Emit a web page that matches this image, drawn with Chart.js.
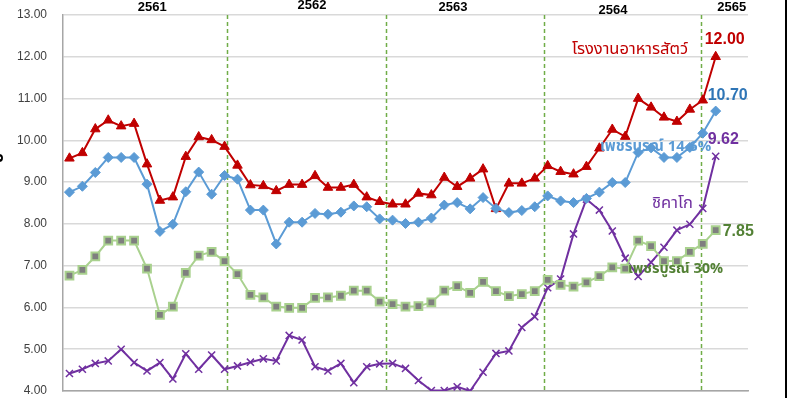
<!DOCTYPE html>
<html>
<head>
<meta charset="utf-8">
<script src="https://cdn.jsdelivr.net/npm/chart.js@4/dist/chart.umd.min.js"></script>
<style>
  html, body { margin: 0; padding: 0; background: #fff; }
  #wrap { width: 799px; height: 405px; position: relative; }
</style>
</head>
<body>
<div id="wrap"><canvas id="priceChart" width="799" height="405"></canvas></div>
<script>
/* ── Data ── */
const months = ["ม.ค.", "ก.พ.", "มี.ค.", "เม.ย.", "พ.ค.", "มิ.ย.", "ก.ค.", "ส.ค.", "ก.ย.", "ต.ค.", "พ.ย.", "ธ.ค."];
const years = ["2561", "2562", "2563", "2564", "2565"];

const feedMill = [
  9.57, 9.70, 10.27, 10.48, 10.34, 10.40, 9.43, 8.56, 8.64, 9.61, 10.08, 10.01, 9.85,
  9.40, 8.93, 8.91, 8.79, 8.94, 8.94, 9.15, 8.87, 8.87, 8.94, 8.64, 8.53, 8.47,
  8.47, 8.73, 8.69, 9.11, 8.89, 9.09, 9.31, 8.36, 8.97, 8.97, 9.09, 9.39,
  9.25, 9.19, 9.37, 9.81, 10.26, 10.09, 11.00, 10.79, 10.55, 10.45, 10.74, 10.96, 12.00
];
const phet146 = [
  8.76, 8.90, 9.23, 9.59, 9.59, 9.59, 8.95, 7.82, 7.99, 8.77, 9.24, 8.71, 9.16,
  9.07, 8.33, 8.33, 7.52, 8.04, 8.04, 8.25, 8.23, 8.28, 8.43, 8.41, 8.12, 8.09,
  8.01, 8.04, 8.14, 8.45, 8.51, 8.36, 8.63, 8.37, 8.27, 8.32, 8.41, 8.67,
  8.55, 8.51, 8.61, 8.76, 8.99, 8.99, 9.71, 9.82, 9.59, 9.59, 9.83, 10.17, 10.70
];
const phet30 = [
  6.76, 6.90, 7.22, 7.60, 7.60, 7.60, 6.93, 5.82, 6.02, 6.83, 7.24, 7.33, 7.11,
  6.80, 6.30, 6.24, 6.02, 5.99, 5.99, 6.23, 6.24, 6.28, 6.40, 6.40, 6.14, 6.08,
  6.02, 6.03, 6.12, 6.40, 6.51, 6.35, 6.61, 6.39, 6.27, 6.32, 6.39, 6.66,
  6.54, 6.50, 6.60, 6.75, 6.96, 6.93, 7.60, 7.47, 7.11, 7.11, 7.33, 7.52, 7.85
];
const chicago = [
  4.42, 4.52, 4.66, 4.72, 5.00, 4.68, 4.48, 4.68, 4.29, 4.89, 4.52, 4.86, 4.52,
  4.60, 4.69, 4.77, 4.72, 5.33, 5.22, 4.58, 4.48, 4.66, 4.20, 4.58, 4.65, 4.66,
  4.54, 4.25, 4.01, 4.01, 4.10, 4.00, 4.45, 4.90, 4.96, 5.52, 5.78, 6.47,
  6.68, 7.76, 8.59, 8.33, 7.83, 7.18, 6.74, 7.08, 7.44, 7.85, 7.99, 8.37, 9.62
];
const yTicks = [4, 5, 6, 7, 8, 9, 10, 11, 12, 13];

const categories = [];
years.forEach((y) => months.forEach((m) => categories.push(`${m} ${y.slice(2)}`)));
categories.length = feedMill.length;

/* ── Layout bits (index units on the x scale) ── */
const yearLines = [12.17, 24.47, 36.74, 48.9];
const yearLabelX = [6.4, 18.76, 29.67, 42.05, 51.24];
const yearLabelY = [7, 5, 7, 10, 7];

const THAI = "'Noto Sans Thai', Tahoma, 'Liberation Sans', sans-serif";
const LAT = "'Liberation Sans', Arial, sans-serif";

const seriesNames = [
  { text: "โรงงานอาหารสัตว์", x: 38.88, y: 12.14, color: "#c00000", font: `16.5px ${THAI}` },
  { text: "เพชรบูรณ์ 14.6%", x: 41.04, y: 9.82, color: "#5b9bd5", font: `bold 15px ${THAI}` },
  { text: "ชิคาโก", x: 45.07, y: 8.45, color: "#7030a0", font: `16.5px ${THAI}` },
  { text: "เพชรบูรณ์ 30%", x: 43.21, y: 6.90, color: "#538135", font: `bold 14.5px ${THAI}` },
];

function pts(arr) {
  return arr.map((v, i) => ({ x: i, y: v }));
}

/* ── Overlay: year dividers, year labels, names, end values ── */
const overlay = {
  id: "overlay",
  beforeDatasetsDraw(chart) {
    const { ctx, chartArea, scales } = chart;
    ctx.save();
    ctx.strokeStyle = "#70ad47";
    ctx.lineWidth = 1.5;
    ctx.setLineDash([4, 3]);
    yearLines.forEach((v) => {
      const x = Math.round(scales.x.getPixelForValue(v)) + 0.5;
      ctx.beginPath();
      ctx.moveTo(x, chartArea.top);
      ctx.lineTo(x, chartArea.bottom + 2);
      ctx.stroke();
    });
    ctx.restore();
  },
  afterDraw(chart) {
    const { ctx, scales } = chart;
    ctx.save();

    ctx.fillStyle = "#000";
    ctx.font = `bold 13px ${LAT}`;
    ctx.textAlign = "center";
    ctx.textBaseline = "middle";
    years.forEach((y, i) => {
      ctx.fillText(y, scales.x.getPixelForValue(yearLabelX[i]), yearLabelY[i]);
    });

    ctx.textAlign = "left";
    seriesNames.forEach((s) => {
      ctx.fillStyle = s.color;
      ctx.font = s.font;
      ctx.fillText(s.text, scales.x.getPixelForValue(s.x), scales.y.getPixelForValue(s.y));
    });

    // value labels at each series' last point
    chart.data.datasets.forEach((ds, i) => {
      const meta = chart.getDatasetMeta(i);
      const last = meta.data[meta.data.length - 1];
      const val = ds.data[ds.data.length - 1].y;
      ctx.fillStyle = ds.valueColor;
      ctx.font = `bold 16px ${LAT}`;
      ctx.fillText(val.toFixed(2), last.x + ds.valueOffset[0], last.y + ds.valueOffset[1]);
    });

    // cut-off axis title on the far left
    ctx.translate(3, 158);
    ctx.rotate(-Math.PI / 2);
    ctx.fillStyle = "#000";
    ctx.font = `bold 16px ${THAI}`;
    ctx.textAlign = "center";
    ctx.textBaseline = "alphabetic";
    ctx.fillText("บ", 0, 0);
    ctx.restore();

    // black frame edge on the right
    ctx.fillStyle = "#000";
    ctx.fillRect(785, 0, 2, 398);
  },
};

new Chart(document.getElementById("priceChart"), {
  type: "line",
  data: {
    labels: categories,
    datasets: [
      {
        label: "เพชรบูรณ์ 30%",
        data: pts(phet30),
        borderColor: "#a9d18e",
        borderWidth: 2,
        pointStyle: "rect",
        pointRadius: 5.5,
        pointBackgroundColor: "#7f7f7f",
        pointBorderColor: "#a9d18e",
        pointBorderWidth: 2,
        valueColor: "#538135",
        valueOffset: [7, 1],
      },
      {
        label: "เพชรบูรณ์ 14.6%",
        data: pts(phet146),
        borderColor: "#5b9bd5",
        borderWidth: 2,
        pointStyle: "rectRot",
        pointRadius: 5,
        pointBackgroundColor: "#5b9bd5",
        pointBorderColor: "#5b9bd5",
        pointBorderWidth: 1,
        valueColor: "#2e75b6",
        valueOffset: [-8, -15],
      },
      {
        label: "โรงงานอาหารสัตว์",
        data: pts(feedMill),
        borderColor: "#c00000",
        borderWidth: 2,
        pointStyle: "triangle",
        pointRadius: 5.5,
        pointBackgroundColor: "#c00000",
        pointBorderColor: "#c00000",
        pointBorderWidth: 1,
        valueColor: "#c00000",
        valueOffset: [-11, -17],
      },
      {
        label: "ชิคาโก",
        data: pts(chicago),
        borderColor: "#7030a0",
        borderWidth: 2,
        pointStyle: "crossRot",
        pointRadius: 5,
        pointBorderColor: "#7030a0",
        pointBorderWidth: 1.5,
        valueColor: "#7030a0",
        valueOffset: [-8, -17],
      },
    ],
  },
  options: {
    responsive: false,
    animation: false,
    layout: { padding: { top: 15, right: 51, bottom: 14, left: 0 } },
    plugins: { legend: { display: false }, tooltip: { enabled: false } },
    scales: {
      x: {
        type: "linear",
        min: -0.5,
        max: 52.5,
        grid: { display: false, drawTicks: false },
        border: { display: true, color: "#a6a6a6", width: 1.5 },
        ticks: { display: false, padding: 0 },
        afterFit: (s) => { s.height = 0; },
      },
      y: {
        min: yTicks[0],
        max: yTicks[yTicks.length - 1],
        afterBuildTicks: (s) => { s.ticks = yTicks.map((v) => ({ value: v })); },
        afterFit: (s) => { s.width = 63; s.paddingTop = 0; s.paddingBottom = 0; },
        grid: { color: "#d9d9d9", lineWidth: 1.5, drawTicks: true, tickLength: 16, tickColor: "rgba(0,0,0,0)" },
        border: { display: true, color: "#a6a6a6", width: 1.5 },
        ticks: {
          padding: 0,
          color: "#404040",
          font: { family: LAT, size: 12 },
          callback: (v) => Number(v).toFixed(2),
        },
      },
    },
  },
  plugins: [overlay],
});
</script>
</body>
</html>
